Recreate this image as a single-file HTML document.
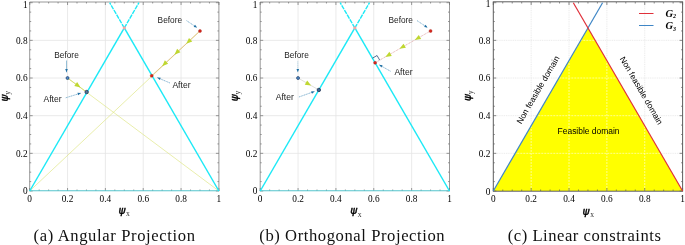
<!DOCTYPE html>
<html><head><meta charset="utf-8"><title>Projection figures</title>
<style>html,body{margin:0;padding:0;background:#fff}svg{display:block}</style></head>
<body>
<svg width="685" height="245" viewBox="0 0 685 245">
<rect width="685" height="245" fill="#fff"/>
<line x1="67.54" y1="191" x2="67.54" y2="2.7" stroke="#e4e4e4" stroke-width="0.8" />
<line x1="29.7" y1="153.34" x2="218.9" y2="153.34" stroke="#e4e4e4" stroke-width="0.8" />
<line x1="105.38" y1="191" x2="105.38" y2="2.7" stroke="#e4e4e4" stroke-width="0.8" />
<line x1="29.7" y1="115.68" x2="218.9" y2="115.68" stroke="#e4e4e4" stroke-width="0.8" />
<line x1="143.22" y1="191" x2="143.22" y2="2.7" stroke="#e4e4e4" stroke-width="0.8" />
<line x1="29.7" y1="78.02" x2="218.9" y2="78.02" stroke="#e4e4e4" stroke-width="0.8" />
<line x1="181.06" y1="191" x2="181.06" y2="2.7" stroke="#e4e4e4" stroke-width="0.8" />
<line x1="29.7" y1="40.36" x2="218.9" y2="40.36" stroke="#e4e4e4" stroke-width="0.8" />
<polyline points="29.7,191 29.7,2 218.9,2 218.9,191" fill="none" stroke="#8c8c8c" stroke-width="0.9"/>
<line x1="29.7" y1="191" x2="29.7" y2="188" stroke="#707070" stroke-width="0.7" />
<line x1="29.7" y1="2" x2="29.7" y2="5" stroke="#707070" stroke-width="0.7" />
<line x1="29.7" y1="191" x2="32.7" y2="191" stroke="#707070" stroke-width="0.7" />
<line x1="218.9" y1="191" x2="215.9" y2="191" stroke="#707070" stroke-width="0.7" />
<line x1="39.16" y1="191" x2="39.16" y2="189.5" stroke="#707070" stroke-width="0.7" />
<line x1="39.16" y1="2" x2="39.16" y2="3.5" stroke="#707070" stroke-width="0.7" />
<line x1="29.7" y1="181.59" x2="31.2" y2="181.59" stroke="#707070" stroke-width="0.7" />
<line x1="218.9" y1="181.59" x2="217.4" y2="181.59" stroke="#707070" stroke-width="0.7" />
<line x1="48.62" y1="191" x2="48.62" y2="189.5" stroke="#707070" stroke-width="0.7" />
<line x1="48.62" y1="2" x2="48.62" y2="3.5" stroke="#707070" stroke-width="0.7" />
<line x1="29.7" y1="172.17" x2="31.2" y2="172.17" stroke="#707070" stroke-width="0.7" />
<line x1="218.9" y1="172.17" x2="217.4" y2="172.17" stroke="#707070" stroke-width="0.7" />
<line x1="58.08" y1="191" x2="58.08" y2="189.5" stroke="#707070" stroke-width="0.7" />
<line x1="58.08" y1="2" x2="58.08" y2="3.5" stroke="#707070" stroke-width="0.7" />
<line x1="29.7" y1="162.75" x2="31.2" y2="162.75" stroke="#707070" stroke-width="0.7" />
<line x1="218.9" y1="162.75" x2="217.4" y2="162.75" stroke="#707070" stroke-width="0.7" />
<line x1="67.54" y1="191" x2="67.54" y2="188" stroke="#707070" stroke-width="0.7" />
<line x1="67.54" y1="2" x2="67.54" y2="5" stroke="#707070" stroke-width="0.7" />
<line x1="29.7" y1="153.34" x2="32.7" y2="153.34" stroke="#707070" stroke-width="0.7" />
<line x1="218.9" y1="153.34" x2="215.9" y2="153.34" stroke="#707070" stroke-width="0.7" />
<line x1="77" y1="191" x2="77" y2="189.5" stroke="#707070" stroke-width="0.7" />
<line x1="77" y1="2" x2="77" y2="3.5" stroke="#707070" stroke-width="0.7" />
<line x1="29.7" y1="143.93" x2="31.2" y2="143.93" stroke="#707070" stroke-width="0.7" />
<line x1="218.9" y1="143.93" x2="217.4" y2="143.93" stroke="#707070" stroke-width="0.7" />
<line x1="86.46" y1="191" x2="86.46" y2="189.5" stroke="#707070" stroke-width="0.7" />
<line x1="86.46" y1="2" x2="86.46" y2="3.5" stroke="#707070" stroke-width="0.7" />
<line x1="29.7" y1="134.51" x2="31.2" y2="134.51" stroke="#707070" stroke-width="0.7" />
<line x1="218.9" y1="134.51" x2="217.4" y2="134.51" stroke="#707070" stroke-width="0.7" />
<line x1="95.92" y1="191" x2="95.92" y2="189.5" stroke="#707070" stroke-width="0.7" />
<line x1="95.92" y1="2" x2="95.92" y2="3.5" stroke="#707070" stroke-width="0.7" />
<line x1="29.7" y1="125.09" x2="31.2" y2="125.09" stroke="#707070" stroke-width="0.7" />
<line x1="218.9" y1="125.09" x2="217.4" y2="125.09" stroke="#707070" stroke-width="0.7" />
<line x1="105.38" y1="191" x2="105.38" y2="188" stroke="#707070" stroke-width="0.7" />
<line x1="105.38" y1="2" x2="105.38" y2="5" stroke="#707070" stroke-width="0.7" />
<line x1="29.7" y1="115.68" x2="32.7" y2="115.68" stroke="#707070" stroke-width="0.7" />
<line x1="218.9" y1="115.68" x2="215.9" y2="115.68" stroke="#707070" stroke-width="0.7" />
<line x1="114.84" y1="191" x2="114.84" y2="189.5" stroke="#707070" stroke-width="0.7" />
<line x1="114.84" y1="2" x2="114.84" y2="3.5" stroke="#707070" stroke-width="0.7" />
<line x1="29.7" y1="106.26" x2="31.2" y2="106.26" stroke="#707070" stroke-width="0.7" />
<line x1="218.9" y1="106.26" x2="217.4" y2="106.26" stroke="#707070" stroke-width="0.7" />
<line x1="124.3" y1="191" x2="124.3" y2="189.5" stroke="#707070" stroke-width="0.7" />
<line x1="124.3" y1="2" x2="124.3" y2="3.5" stroke="#707070" stroke-width="0.7" />
<line x1="29.7" y1="96.85" x2="31.2" y2="96.85" stroke="#707070" stroke-width="0.7" />
<line x1="218.9" y1="96.85" x2="217.4" y2="96.85" stroke="#707070" stroke-width="0.7" />
<line x1="133.76" y1="191" x2="133.76" y2="189.5" stroke="#707070" stroke-width="0.7" />
<line x1="133.76" y1="2" x2="133.76" y2="3.5" stroke="#707070" stroke-width="0.7" />
<line x1="29.7" y1="87.43" x2="31.2" y2="87.43" stroke="#707070" stroke-width="0.7" />
<line x1="218.9" y1="87.43" x2="217.4" y2="87.43" stroke="#707070" stroke-width="0.7" />
<line x1="143.22" y1="191" x2="143.22" y2="188" stroke="#707070" stroke-width="0.7" />
<line x1="143.22" y1="2" x2="143.22" y2="5" stroke="#707070" stroke-width="0.7" />
<line x1="29.7" y1="78.02" x2="32.7" y2="78.02" stroke="#707070" stroke-width="0.7" />
<line x1="218.9" y1="78.02" x2="215.9" y2="78.02" stroke="#707070" stroke-width="0.7" />
<line x1="152.68" y1="191" x2="152.68" y2="189.5" stroke="#707070" stroke-width="0.7" />
<line x1="152.68" y1="2" x2="152.68" y2="3.5" stroke="#707070" stroke-width="0.7" />
<line x1="29.7" y1="68.6" x2="31.2" y2="68.6" stroke="#707070" stroke-width="0.7" />
<line x1="218.9" y1="68.6" x2="217.4" y2="68.6" stroke="#707070" stroke-width="0.7" />
<line x1="162.14" y1="191" x2="162.14" y2="189.5" stroke="#707070" stroke-width="0.7" />
<line x1="162.14" y1="2" x2="162.14" y2="3.5" stroke="#707070" stroke-width="0.7" />
<line x1="29.7" y1="59.19" x2="31.2" y2="59.19" stroke="#707070" stroke-width="0.7" />
<line x1="218.9" y1="59.19" x2="217.4" y2="59.19" stroke="#707070" stroke-width="0.7" />
<line x1="171.6" y1="191" x2="171.6" y2="189.5" stroke="#707070" stroke-width="0.7" />
<line x1="171.6" y1="2" x2="171.6" y2="3.5" stroke="#707070" stroke-width="0.7" />
<line x1="29.7" y1="49.77" x2="31.2" y2="49.77" stroke="#707070" stroke-width="0.7" />
<line x1="218.9" y1="49.77" x2="217.4" y2="49.77" stroke="#707070" stroke-width="0.7" />
<line x1="181.06" y1="191" x2="181.06" y2="188" stroke="#707070" stroke-width="0.7" />
<line x1="181.06" y1="2" x2="181.06" y2="5" stroke="#707070" stroke-width="0.7" />
<line x1="29.7" y1="40.36" x2="32.7" y2="40.36" stroke="#707070" stroke-width="0.7" />
<line x1="218.9" y1="40.36" x2="215.9" y2="40.36" stroke="#707070" stroke-width="0.7" />
<line x1="190.52" y1="191" x2="190.52" y2="189.5" stroke="#707070" stroke-width="0.7" />
<line x1="190.52" y1="2" x2="190.52" y2="3.5" stroke="#707070" stroke-width="0.7" />
<line x1="29.7" y1="30.94" x2="31.2" y2="30.94" stroke="#707070" stroke-width="0.7" />
<line x1="218.9" y1="30.94" x2="217.4" y2="30.94" stroke="#707070" stroke-width="0.7" />
<line x1="199.98" y1="191" x2="199.98" y2="189.5" stroke="#707070" stroke-width="0.7" />
<line x1="199.98" y1="2" x2="199.98" y2="3.5" stroke="#707070" stroke-width="0.7" />
<line x1="29.7" y1="21.53" x2="31.2" y2="21.53" stroke="#707070" stroke-width="0.7" />
<line x1="218.9" y1="21.53" x2="217.4" y2="21.53" stroke="#707070" stroke-width="0.7" />
<line x1="209.44" y1="191" x2="209.44" y2="189.5" stroke="#707070" stroke-width="0.7" />
<line x1="209.44" y1="2" x2="209.44" y2="3.5" stroke="#707070" stroke-width="0.7" />
<line x1="29.7" y1="12.11" x2="31.2" y2="12.11" stroke="#707070" stroke-width="0.7" />
<line x1="218.9" y1="12.11" x2="217.4" y2="12.11" stroke="#707070" stroke-width="0.7" />
<line x1="218.9" y1="191" x2="218.9" y2="188" stroke="#707070" stroke-width="0.7" />
<line x1="218.9" y1="2" x2="218.9" y2="5" stroke="#707070" stroke-width="0.7" />
<line x1="29.7" y1="2.7" x2="32.7" y2="2.7" stroke="#707070" stroke-width="0.7" />
<line x1="218.9" y1="2.7" x2="215.9" y2="2.7" stroke="#707070" stroke-width="0.7" />
<text x="29.7" y="201.8" font-family='"Liberation Serif", serif' font-size="9.3" text-anchor="middle" fill="#000">0</text>
<text x="27.6" y="194.2" font-family='"Liberation Serif", serif' font-size="9.3" text-anchor="end" fill="#000">0</text>
<text x="67.54" y="201.8" font-family='"Liberation Serif", serif' font-size="9.3" text-anchor="middle" fill="#000">0.2</text>
<text x="27.6" y="156.54" font-family='"Liberation Serif", serif' font-size="9.3" text-anchor="end" fill="#000">0.2</text>
<text x="105.38" y="201.8" font-family='"Liberation Serif", serif' font-size="9.3" text-anchor="middle" fill="#000">0.4</text>
<text x="27.6" y="118.88" font-family='"Liberation Serif", serif' font-size="9.3" text-anchor="end" fill="#000">0.4</text>
<text x="143.22" y="201.8" font-family='"Liberation Serif", serif' font-size="9.3" text-anchor="middle" fill="#000">0.6</text>
<text x="27.6" y="81.22" font-family='"Liberation Serif", serif' font-size="9.3" text-anchor="end" fill="#000">0.6</text>
<text x="181.06" y="201.8" font-family='"Liberation Serif", serif' font-size="9.3" text-anchor="middle" fill="#000">0.8</text>
<text x="27.6" y="43.56" font-family='"Liberation Serif", serif' font-size="9.3" text-anchor="end" fill="#000">0.8</text>
<text x="218.9" y="201.8" font-family='"Liberation Serif", serif' font-size="9.3" text-anchor="middle" fill="#000">1</text>
<text x="27.6" y="7.8" font-family='"Liberation Serif", serif' font-size="9.3" text-anchor="end" fill="#000">1</text>
<text x="118.4" y="213.7" font-family='"DejaVu Sans", "Liberation Sans", sans-serif' font-size="10.4" font-style="italic" fill="#000" stroke="#000" stroke-width="0.4">ψ</text><text x="126" y="216.1" font-family='"Liberation Serif", serif' font-size="7.6" fill="#333">x</text>
<g transform="translate(7.5,101.6) rotate(-90)"><text x="0" y="0" font-family='"DejaVu Sans", "Liberation Sans", sans-serif' font-size="10.4" font-style="italic" fill="#000" stroke="#000" stroke-width="0.4">ψ</text><text x="6.9" y="2.3" font-family='"Liberation Serif", serif' font-size="7.6" fill="#333">y</text></g>
<line x1="29.7" y1="191" x2="199.98" y2="30.94" stroke="#dde57e" stroke-width="0.65" />
<line x1="218.9" y1="191" x2="67.54" y2="78.02" stroke="#dde57e" stroke-width="0.65" />
<line x1="29.3" y1="190.7" x2="219.3" y2="190.7" stroke="#55c4cc" stroke-width="1.15" />
<line x1="29.7" y1="191" x2="124.3" y2="27.93" stroke="#1ce9f6" stroke-width="1.45" />
<line x1="218.9" y1="191" x2="124.3" y2="27.93" stroke="#1ce9f6" stroke-width="1.45" />
<line x1="124.3" y1="27.93" x2="138.93" y2="2.7" stroke="#1ce9f6" stroke-width="1.4" stroke-dasharray="4.5 0.9"/>
<line x1="124.3" y1="27.93" x2="109.67" y2="2.7" stroke="#1ce9f6" stroke-width="1.4" stroke-dasharray="4.5 0.9"/>
<circle cx="124.3" cy="27.93" r="1.6" fill="#f4a6a6"/>
<line x1="67.54" y1="78.02" x2="86.65" y2="92.05" stroke="#ced85a" stroke-width="0.75" />
<polygon points="80.53,87.56 74.28,85.94 77.12,82.07" fill="#bfd730"/>
<line x1="199.98" y1="30.94" x2="151.73" y2="75.76" stroke="#e0bc84" stroke-width="0.9" />
<polygon points="186.23,43.72 188.99,37.88 192.26,41.39" fill="#bfd730"/>
<polygon points="174.41,54.7 177.17,48.86 180.44,52.37" fill="#bfd730"/>
<polygon points="162.11,66.13 164.87,60.28 168.14,63.8" fill="#bfd730"/>
<circle cx="67.54" cy="78.02" r="1.5" fill="#4a86c0" stroke="#23406e" stroke-width="0.7"/>
<circle cx="86.65" cy="92.05" r="1.7" fill="#5a7898" stroke="#1c3050" stroke-width="0.8"/>
<circle cx="199.98" cy="30.94" r="1.5" fill="#d8261c" stroke="#a01810" stroke-width="0.4"/>
<circle cx="151.73" cy="75.76" r="1.5" fill="#d8261c" stroke="#a01810" stroke-width="0.4"/>
<text x="54.3" y="57.5" font-family='"Liberation Sans", sans-serif' font-size="8.3" text-anchor="start" fill="#222">Before</text>
<line x1="66.5" y1="60.5" x2="66.5" y2="72.3" stroke="#3f8ab4" stroke-width="0.55" />
<polygon points="66.5,72.3 65.2,69.1 67.8,69.1" fill="#1f6fa3"/>
<text x="43.5" y="101.6" font-family='"Liberation Sans", sans-serif' font-size="8.6" text-anchor="start" fill="#222">After</text>
<line x1="65.7" y1="97.8" x2="80.9" y2="93.1" stroke="#2d7fb0" stroke-width="0.55" stroke-dasharray="1.3 0.5"/>
<polygon points="80.9,93.1 78.23,95.29 77.46,92.8" fill="#1f6fa3"/>
<text x="157.6" y="23.2" font-family='"Liberation Sans", sans-serif' font-size="8.3" text-anchor="start" fill="#222">Before</text>
<line x1="186.5" y1="20.6" x2="197" y2="27.6" stroke="#2d7fb0" stroke-width="0.55" stroke-dasharray="1.3 0.5"/>
<polygon points="197,27.6 193.62,26.91 195.06,24.74" fill="#1f6fa3"/>
<text x="172.4" y="88" font-family='"Liberation Sans", sans-serif' font-size="8.6" text-anchor="start" fill="#222">After</text>
<line x1="170" y1="83" x2="157.3" y2="77.6" stroke="#2d7fb0" stroke-width="0.55" stroke-dasharray="1.3 0.5"/>
<polygon points="157.3,77.6 160.75,77.66 159.74,80.05" fill="#1f6fa3"/>
<line x1="298.06" y1="191" x2="298.06" y2="2.7" stroke="#e4e4e4" stroke-width="0.8" />
<line x1="260.2" y1="153.34" x2="449.5" y2="153.34" stroke="#e4e4e4" stroke-width="0.8" />
<line x1="335.92" y1="191" x2="335.92" y2="2.7" stroke="#e4e4e4" stroke-width="0.8" />
<line x1="260.2" y1="115.68" x2="449.5" y2="115.68" stroke="#e4e4e4" stroke-width="0.8" />
<line x1="373.78" y1="191" x2="373.78" y2="2.7" stroke="#e4e4e4" stroke-width="0.8" />
<line x1="260.2" y1="78.02" x2="449.5" y2="78.02" stroke="#e4e4e4" stroke-width="0.8" />
<line x1="411.64" y1="191" x2="411.64" y2="2.7" stroke="#e4e4e4" stroke-width="0.8" />
<line x1="260.2" y1="40.36" x2="449.5" y2="40.36" stroke="#e4e4e4" stroke-width="0.8" />
<polyline points="260.2,191 260.2,2 449.5,2 449.5,191" fill="none" stroke="#8c8c8c" stroke-width="0.9"/>
<line x1="260.2" y1="191" x2="260.2" y2="188" stroke="#707070" stroke-width="0.7" />
<line x1="260.2" y1="2" x2="260.2" y2="5" stroke="#707070" stroke-width="0.7" />
<line x1="260.2" y1="191" x2="263.2" y2="191" stroke="#707070" stroke-width="0.7" />
<line x1="449.5" y1="191" x2="446.5" y2="191" stroke="#707070" stroke-width="0.7" />
<line x1="269.66" y1="191" x2="269.66" y2="189.5" stroke="#707070" stroke-width="0.7" />
<line x1="269.66" y1="2" x2="269.66" y2="3.5" stroke="#707070" stroke-width="0.7" />
<line x1="260.2" y1="181.59" x2="261.7" y2="181.59" stroke="#707070" stroke-width="0.7" />
<line x1="449.5" y1="181.59" x2="448" y2="181.59" stroke="#707070" stroke-width="0.7" />
<line x1="279.13" y1="191" x2="279.13" y2="189.5" stroke="#707070" stroke-width="0.7" />
<line x1="279.13" y1="2" x2="279.13" y2="3.5" stroke="#707070" stroke-width="0.7" />
<line x1="260.2" y1="172.17" x2="261.7" y2="172.17" stroke="#707070" stroke-width="0.7" />
<line x1="449.5" y1="172.17" x2="448" y2="172.17" stroke="#707070" stroke-width="0.7" />
<line x1="288.59" y1="191" x2="288.59" y2="189.5" stroke="#707070" stroke-width="0.7" />
<line x1="288.59" y1="2" x2="288.59" y2="3.5" stroke="#707070" stroke-width="0.7" />
<line x1="260.2" y1="162.75" x2="261.7" y2="162.75" stroke="#707070" stroke-width="0.7" />
<line x1="449.5" y1="162.75" x2="448" y2="162.75" stroke="#707070" stroke-width="0.7" />
<line x1="298.06" y1="191" x2="298.06" y2="188" stroke="#707070" stroke-width="0.7" />
<line x1="298.06" y1="2" x2="298.06" y2="5" stroke="#707070" stroke-width="0.7" />
<line x1="260.2" y1="153.34" x2="263.2" y2="153.34" stroke="#707070" stroke-width="0.7" />
<line x1="449.5" y1="153.34" x2="446.5" y2="153.34" stroke="#707070" stroke-width="0.7" />
<line x1="307.52" y1="191" x2="307.52" y2="189.5" stroke="#707070" stroke-width="0.7" />
<line x1="307.52" y1="2" x2="307.52" y2="3.5" stroke="#707070" stroke-width="0.7" />
<line x1="260.2" y1="143.93" x2="261.7" y2="143.93" stroke="#707070" stroke-width="0.7" />
<line x1="449.5" y1="143.93" x2="448" y2="143.93" stroke="#707070" stroke-width="0.7" />
<line x1="316.99" y1="191" x2="316.99" y2="189.5" stroke="#707070" stroke-width="0.7" />
<line x1="316.99" y1="2" x2="316.99" y2="3.5" stroke="#707070" stroke-width="0.7" />
<line x1="260.2" y1="134.51" x2="261.7" y2="134.51" stroke="#707070" stroke-width="0.7" />
<line x1="449.5" y1="134.51" x2="448" y2="134.51" stroke="#707070" stroke-width="0.7" />
<line x1="326.45" y1="191" x2="326.45" y2="189.5" stroke="#707070" stroke-width="0.7" />
<line x1="326.45" y1="2" x2="326.45" y2="3.5" stroke="#707070" stroke-width="0.7" />
<line x1="260.2" y1="125.09" x2="261.7" y2="125.09" stroke="#707070" stroke-width="0.7" />
<line x1="449.5" y1="125.09" x2="448" y2="125.09" stroke="#707070" stroke-width="0.7" />
<line x1="335.92" y1="191" x2="335.92" y2="188" stroke="#707070" stroke-width="0.7" />
<line x1="335.92" y1="2" x2="335.92" y2="5" stroke="#707070" stroke-width="0.7" />
<line x1="260.2" y1="115.68" x2="263.2" y2="115.68" stroke="#707070" stroke-width="0.7" />
<line x1="449.5" y1="115.68" x2="446.5" y2="115.68" stroke="#707070" stroke-width="0.7" />
<line x1="345.38" y1="191" x2="345.38" y2="189.5" stroke="#707070" stroke-width="0.7" />
<line x1="345.38" y1="2" x2="345.38" y2="3.5" stroke="#707070" stroke-width="0.7" />
<line x1="260.2" y1="106.26" x2="261.7" y2="106.26" stroke="#707070" stroke-width="0.7" />
<line x1="449.5" y1="106.26" x2="448" y2="106.26" stroke="#707070" stroke-width="0.7" />
<line x1="354.85" y1="191" x2="354.85" y2="189.5" stroke="#707070" stroke-width="0.7" />
<line x1="354.85" y1="2" x2="354.85" y2="3.5" stroke="#707070" stroke-width="0.7" />
<line x1="260.2" y1="96.85" x2="261.7" y2="96.85" stroke="#707070" stroke-width="0.7" />
<line x1="449.5" y1="96.85" x2="448" y2="96.85" stroke="#707070" stroke-width="0.7" />
<line x1="364.31" y1="191" x2="364.31" y2="189.5" stroke="#707070" stroke-width="0.7" />
<line x1="364.31" y1="2" x2="364.31" y2="3.5" stroke="#707070" stroke-width="0.7" />
<line x1="260.2" y1="87.43" x2="261.7" y2="87.43" stroke="#707070" stroke-width="0.7" />
<line x1="449.5" y1="87.43" x2="448" y2="87.43" stroke="#707070" stroke-width="0.7" />
<line x1="373.78" y1="191" x2="373.78" y2="188" stroke="#707070" stroke-width="0.7" />
<line x1="373.78" y1="2" x2="373.78" y2="5" stroke="#707070" stroke-width="0.7" />
<line x1="260.2" y1="78.02" x2="263.2" y2="78.02" stroke="#707070" stroke-width="0.7" />
<line x1="449.5" y1="78.02" x2="446.5" y2="78.02" stroke="#707070" stroke-width="0.7" />
<line x1="383.25" y1="191" x2="383.25" y2="189.5" stroke="#707070" stroke-width="0.7" />
<line x1="383.25" y1="2" x2="383.25" y2="3.5" stroke="#707070" stroke-width="0.7" />
<line x1="260.2" y1="68.6" x2="261.7" y2="68.6" stroke="#707070" stroke-width="0.7" />
<line x1="449.5" y1="68.6" x2="448" y2="68.6" stroke="#707070" stroke-width="0.7" />
<line x1="392.71" y1="191" x2="392.71" y2="189.5" stroke="#707070" stroke-width="0.7" />
<line x1="392.71" y1="2" x2="392.71" y2="3.5" stroke="#707070" stroke-width="0.7" />
<line x1="260.2" y1="59.19" x2="261.7" y2="59.19" stroke="#707070" stroke-width="0.7" />
<line x1="449.5" y1="59.19" x2="448" y2="59.19" stroke="#707070" stroke-width="0.7" />
<line x1="402.18" y1="191" x2="402.18" y2="189.5" stroke="#707070" stroke-width="0.7" />
<line x1="402.18" y1="2" x2="402.18" y2="3.5" stroke="#707070" stroke-width="0.7" />
<line x1="260.2" y1="49.77" x2="261.7" y2="49.77" stroke="#707070" stroke-width="0.7" />
<line x1="449.5" y1="49.77" x2="448" y2="49.77" stroke="#707070" stroke-width="0.7" />
<line x1="411.64" y1="191" x2="411.64" y2="188" stroke="#707070" stroke-width="0.7" />
<line x1="411.64" y1="2" x2="411.64" y2="5" stroke="#707070" stroke-width="0.7" />
<line x1="260.2" y1="40.36" x2="263.2" y2="40.36" stroke="#707070" stroke-width="0.7" />
<line x1="449.5" y1="40.36" x2="446.5" y2="40.36" stroke="#707070" stroke-width="0.7" />
<line x1="421.11" y1="191" x2="421.11" y2="189.5" stroke="#707070" stroke-width="0.7" />
<line x1="421.11" y1="2" x2="421.11" y2="3.5" stroke="#707070" stroke-width="0.7" />
<line x1="260.2" y1="30.94" x2="261.7" y2="30.94" stroke="#707070" stroke-width="0.7" />
<line x1="449.5" y1="30.94" x2="448" y2="30.94" stroke="#707070" stroke-width="0.7" />
<line x1="430.57" y1="191" x2="430.57" y2="189.5" stroke="#707070" stroke-width="0.7" />
<line x1="430.57" y1="2" x2="430.57" y2="3.5" stroke="#707070" stroke-width="0.7" />
<line x1="260.2" y1="21.53" x2="261.7" y2="21.53" stroke="#707070" stroke-width="0.7" />
<line x1="449.5" y1="21.53" x2="448" y2="21.53" stroke="#707070" stroke-width="0.7" />
<line x1="440.04" y1="191" x2="440.04" y2="189.5" stroke="#707070" stroke-width="0.7" />
<line x1="440.04" y1="2" x2="440.04" y2="3.5" stroke="#707070" stroke-width="0.7" />
<line x1="260.2" y1="12.11" x2="261.7" y2="12.11" stroke="#707070" stroke-width="0.7" />
<line x1="449.5" y1="12.11" x2="448" y2="12.11" stroke="#707070" stroke-width="0.7" />
<line x1="449.5" y1="191" x2="449.5" y2="188" stroke="#707070" stroke-width="0.7" />
<line x1="449.5" y1="2" x2="449.5" y2="5" stroke="#707070" stroke-width="0.7" />
<line x1="260.2" y1="2.7" x2="263.2" y2="2.7" stroke="#707070" stroke-width="0.7" />
<line x1="449.5" y1="2.7" x2="446.5" y2="2.7" stroke="#707070" stroke-width="0.7" />
<text x="260.2" y="201.8" font-family='"Liberation Serif", serif' font-size="9.3" text-anchor="middle" fill="#000">0</text>
<text x="257.3" y="194.2" font-family='"Liberation Serif", serif' font-size="9.3" text-anchor="end" fill="#000">0</text>
<text x="298.06" y="201.8" font-family='"Liberation Serif", serif' font-size="9.3" text-anchor="middle" fill="#000">0.2</text>
<text x="257.3" y="156.54" font-family='"Liberation Serif", serif' font-size="9.3" text-anchor="end" fill="#000">0.2</text>
<text x="335.92" y="201.8" font-family='"Liberation Serif", serif' font-size="9.3" text-anchor="middle" fill="#000">0.4</text>
<text x="257.3" y="118.88" font-family='"Liberation Serif", serif' font-size="9.3" text-anchor="end" fill="#000">0.4</text>
<text x="373.78" y="201.8" font-family='"Liberation Serif", serif' font-size="9.3" text-anchor="middle" fill="#000">0.6</text>
<text x="257.3" y="81.22" font-family='"Liberation Serif", serif' font-size="9.3" text-anchor="end" fill="#000">0.6</text>
<text x="411.64" y="201.8" font-family='"Liberation Serif", serif' font-size="9.3" text-anchor="middle" fill="#000">0.8</text>
<text x="257.3" y="43.56" font-family='"Liberation Serif", serif' font-size="9.3" text-anchor="end" fill="#000">0.8</text>
<text x="449.5" y="201.8" font-family='"Liberation Serif", serif' font-size="9.3" text-anchor="middle" fill="#000">1</text>
<text x="257.3" y="7.8" font-family='"Liberation Serif", serif' font-size="9.3" text-anchor="end" fill="#000">1</text>
<text x="350.25" y="214.3" font-family='"DejaVu Sans", "Liberation Sans", sans-serif' font-size="10.4" font-style="italic" fill="#000" stroke="#000" stroke-width="0.4">ψ</text><text x="357.85" y="216.7" font-family='"Liberation Serif", serif' font-size="7.6" fill="#333">x</text>
<g transform="translate(238,101.3) rotate(-90)"><text x="0" y="0" font-family='"DejaVu Sans", "Liberation Sans", sans-serif' font-size="10.4" font-style="italic" fill="#000" stroke="#000" stroke-width="0.4">ψ</text><text x="6.9" y="2.3" font-family='"Liberation Serif", serif' font-size="7.6" fill="#333">y</text></g>
<line x1="259.8" y1="190.7" x2="449.9" y2="190.7" stroke="#55c4cc" stroke-width="1.15" />
<line x1="260.2" y1="191" x2="354.85" y2="27.93" stroke="#1ce9f6" stroke-width="1.45" />
<line x1="449.5" y1="191" x2="354.85" y2="27.93" stroke="#1ce9f6" stroke-width="1.45" />
<line x1="354.85" y1="27.93" x2="369.49" y2="2.7" stroke="#1ce9f6" stroke-width="1.4" stroke-dasharray="4.5 0.9"/>
<line x1="354.85" y1="27.93" x2="340.21" y2="2.7" stroke="#1ce9f6" stroke-width="1.4" stroke-dasharray="4.5 0.9"/>
<circle cx="354.85" cy="27.93" r="1.6" fill="#f4a6a6"/>
<line x1="298.06" y1="78.02" x2="318.85" y2="89.96" stroke="#d8d8d0" stroke-width="0.8" />
<polygon points="311.15,85.54 304.76,84.63 307.15,80.47" fill="#bfd730"/>
<line x1="430.57" y1="30.94" x2="375.11" y2="62.77" stroke="#d89090" stroke-width="0.7" stroke-dasharray="1 0.7"/>
<polygon points="414.76,40.01 418.77,34.95 421.16,39.11" fill="#bfd730"/>
<polygon points="399.51,48.77 403.52,43.7 405.91,47.86" fill="#bfd730"/>
<polygon points="385.37,56.88 389.38,51.81 391.76,55.98" fill="#bfd730"/>
<polyline points="372.47,58.17 377.06,55.53 379.7,60.13" fill="none" stroke="#1c4070" stroke-width="0.75"/>
<circle cx="298.06" cy="78.02" r="1.5" fill="#4a86c0" stroke="#23406e" stroke-width="0.7"/>
<circle cx="318.85" cy="89.96" r="1.7" fill="#3a6898" stroke="#1c3050" stroke-width="0.8"/>
<circle cx="430.57" cy="30.94" r="1.5" fill="#d8261c" stroke="#a01810" stroke-width="0.4"/>
<circle cx="375.11" cy="62.77" r="1.5" fill="#d8261c" stroke="#a01810" stroke-width="0.4"/>
<text x="284.3" y="57.5" font-family='"Liberation Sans", sans-serif' font-size="8.3" text-anchor="start" fill="#222">Before</text>
<line x1="297.8" y1="61.3" x2="297.8" y2="72.2" stroke="#8fc0d8" stroke-width="0.55" stroke-dasharray="1.3 0.5"/>
<polygon points="297.8,72.2 296.5,69 299.1,69" fill="#1f6fa3"/>
<text x="275.7" y="99.6" font-family='"Liberation Sans", sans-serif' font-size="8.6" text-anchor="start" fill="#222">After</text>
<line x1="298.9" y1="97" x2="314.6" y2="91.4" stroke="#2d7fb0" stroke-width="0.55" stroke-dasharray="1.3 0.5"/>
<polygon points="314.6,91.4 312.02,93.7 311.15,91.25" fill="#1f6fa3"/>
<text x="388.5" y="23.3" font-family='"Liberation Sans", sans-serif' font-size="8.3" text-anchor="start" fill="#222">Before</text>
<line x1="417" y1="20.6" x2="427.5" y2="27.6" stroke="#2d7fb0" stroke-width="0.55" stroke-dasharray="1.3 0.5"/>
<polygon points="427.5,27.6 424.12,26.91 425.56,24.74" fill="#1f6fa3"/>
<text x="394.4" y="75" font-family='"Liberation Sans", sans-serif' font-size="8.6" text-anchor="start" fill="#222">After</text>
<line x1="390.6" y1="71.3" x2="379.2" y2="64.8" stroke="#2d7fb0" stroke-width="0.55" stroke-dasharray="1.3 0.5"/>
<polygon points="379.2,64.8 382.62,65.26 381.34,67.51" fill="#1f6fa3"/>
<line x1="531.16" y1="191" x2="531.16" y2="2.7" stroke="#e4e4e4" stroke-width="0.8" stroke-dasharray="1 0.8"/>
<line x1="493.3" y1="153.34" x2="682.6" y2="153.34" stroke="#e4e4e4" stroke-width="0.8" stroke-dasharray="1 0.8"/>
<line x1="569.02" y1="191" x2="569.02" y2="2.7" stroke="#e4e4e4" stroke-width="0.8" stroke-dasharray="1 0.8"/>
<line x1="493.3" y1="115.68" x2="682.6" y2="115.68" stroke="#e4e4e4" stroke-width="0.8" stroke-dasharray="1 0.8"/>
<line x1="606.88" y1="191" x2="606.88" y2="2.7" stroke="#e4e4e4" stroke-width="0.8" stroke-dasharray="1 0.8"/>
<line x1="493.3" y1="78.02" x2="682.6" y2="78.02" stroke="#e4e4e4" stroke-width="0.8" stroke-dasharray="1 0.8"/>
<line x1="644.74" y1="191" x2="644.74" y2="2.7" stroke="#e4e4e4" stroke-width="0.8" stroke-dasharray="1 0.8"/>
<line x1="493.3" y1="40.36" x2="682.6" y2="40.36" stroke="#e4e4e4" stroke-width="0.8" stroke-dasharray="1 0.8"/>
<clipPath id="tri"><polygon points="493.3,191 587.95,27.93 682.6,191"/></clipPath>
<polygon points="493.3,191 587.95,27.93 682.6,191" fill="#ffff00"/>
<g clip-path="url(#tri)">
<line x1="531.16" y1="191" x2="531.16" y2="2.7" stroke="#ffffc4" stroke-width="0.7" stroke-dasharray="2 1"/>
<line x1="493.3" y1="153.34" x2="682.6" y2="153.34" stroke="#ffffc4" stroke-width="0.7" stroke-dasharray="2 1"/>
<line x1="569.02" y1="191" x2="569.02" y2="2.7" stroke="#ffffc4" stroke-width="0.7" stroke-dasharray="2 1"/>
<line x1="493.3" y1="115.68" x2="682.6" y2="115.68" stroke="#ffffc4" stroke-width="0.7" stroke-dasharray="2 1"/>
<line x1="606.88" y1="191" x2="606.88" y2="2.7" stroke="#ffffc4" stroke-width="0.7" stroke-dasharray="2 1"/>
<line x1="493.3" y1="78.02" x2="682.6" y2="78.02" stroke="#ffffc4" stroke-width="0.7" stroke-dasharray="2 1"/>
<line x1="644.74" y1="191" x2="644.74" y2="2.7" stroke="#ffffc4" stroke-width="0.7" stroke-dasharray="2 1"/>
<line x1="493.3" y1="40.36" x2="682.6" y2="40.36" stroke="#ffffc4" stroke-width="0.7" stroke-dasharray="2 1"/>
</g>
<rect x="493.3" y="1.8" width="189.3" height="189.4" fill="none" stroke="#5c5c5c" stroke-width="1"/>
<line x1="493.3" y1="191" x2="493.3" y2="188" stroke="#5c5c5c" stroke-width="0.7" />
<line x1="493.3" y1="2" x2="493.3" y2="5" stroke="#5c5c5c" stroke-width="0.7" />
<line x1="493.3" y1="191" x2="496.3" y2="191" stroke="#5c5c5c" stroke-width="0.7" />
<line x1="682.6" y1="191" x2="679.6" y2="191" stroke="#5c5c5c" stroke-width="0.7" />
<line x1="502.76" y1="191" x2="502.76" y2="189.5" stroke="#5c5c5c" stroke-width="0.7" />
<line x1="502.76" y1="2" x2="502.76" y2="3.5" stroke="#5c5c5c" stroke-width="0.7" />
<line x1="493.3" y1="181.59" x2="494.8" y2="181.59" stroke="#5c5c5c" stroke-width="0.7" />
<line x1="682.6" y1="181.59" x2="681.1" y2="181.59" stroke="#5c5c5c" stroke-width="0.7" />
<line x1="512.23" y1="191" x2="512.23" y2="189.5" stroke="#5c5c5c" stroke-width="0.7" />
<line x1="512.23" y1="2" x2="512.23" y2="3.5" stroke="#5c5c5c" stroke-width="0.7" />
<line x1="493.3" y1="172.17" x2="494.8" y2="172.17" stroke="#5c5c5c" stroke-width="0.7" />
<line x1="682.6" y1="172.17" x2="681.1" y2="172.17" stroke="#5c5c5c" stroke-width="0.7" />
<line x1="521.7" y1="191" x2="521.7" y2="189.5" stroke="#5c5c5c" stroke-width="0.7" />
<line x1="521.7" y1="2" x2="521.7" y2="3.5" stroke="#5c5c5c" stroke-width="0.7" />
<line x1="493.3" y1="162.75" x2="494.8" y2="162.75" stroke="#5c5c5c" stroke-width="0.7" />
<line x1="682.6" y1="162.75" x2="681.1" y2="162.75" stroke="#5c5c5c" stroke-width="0.7" />
<line x1="531.16" y1="191" x2="531.16" y2="188" stroke="#5c5c5c" stroke-width="0.7" />
<line x1="531.16" y1="2" x2="531.16" y2="5" stroke="#5c5c5c" stroke-width="0.7" />
<line x1="493.3" y1="153.34" x2="496.3" y2="153.34" stroke="#5c5c5c" stroke-width="0.7" />
<line x1="682.6" y1="153.34" x2="679.6" y2="153.34" stroke="#5c5c5c" stroke-width="0.7" />
<line x1="540.62" y1="191" x2="540.62" y2="189.5" stroke="#5c5c5c" stroke-width="0.7" />
<line x1="540.62" y1="2" x2="540.62" y2="3.5" stroke="#5c5c5c" stroke-width="0.7" />
<line x1="493.3" y1="143.93" x2="494.8" y2="143.93" stroke="#5c5c5c" stroke-width="0.7" />
<line x1="682.6" y1="143.93" x2="681.1" y2="143.93" stroke="#5c5c5c" stroke-width="0.7" />
<line x1="550.09" y1="191" x2="550.09" y2="189.5" stroke="#5c5c5c" stroke-width="0.7" />
<line x1="550.09" y1="2" x2="550.09" y2="3.5" stroke="#5c5c5c" stroke-width="0.7" />
<line x1="493.3" y1="134.51" x2="494.8" y2="134.51" stroke="#5c5c5c" stroke-width="0.7" />
<line x1="682.6" y1="134.51" x2="681.1" y2="134.51" stroke="#5c5c5c" stroke-width="0.7" />
<line x1="559.56" y1="191" x2="559.56" y2="189.5" stroke="#5c5c5c" stroke-width="0.7" />
<line x1="559.56" y1="2" x2="559.56" y2="3.5" stroke="#5c5c5c" stroke-width="0.7" />
<line x1="493.3" y1="125.09" x2="494.8" y2="125.09" stroke="#5c5c5c" stroke-width="0.7" />
<line x1="682.6" y1="125.09" x2="681.1" y2="125.09" stroke="#5c5c5c" stroke-width="0.7" />
<line x1="569.02" y1="191" x2="569.02" y2="188" stroke="#5c5c5c" stroke-width="0.7" />
<line x1="569.02" y1="2" x2="569.02" y2="5" stroke="#5c5c5c" stroke-width="0.7" />
<line x1="493.3" y1="115.68" x2="496.3" y2="115.68" stroke="#5c5c5c" stroke-width="0.7" />
<line x1="682.6" y1="115.68" x2="679.6" y2="115.68" stroke="#5c5c5c" stroke-width="0.7" />
<line x1="578.49" y1="191" x2="578.49" y2="189.5" stroke="#5c5c5c" stroke-width="0.7" />
<line x1="578.49" y1="2" x2="578.49" y2="3.5" stroke="#5c5c5c" stroke-width="0.7" />
<line x1="493.3" y1="106.26" x2="494.8" y2="106.26" stroke="#5c5c5c" stroke-width="0.7" />
<line x1="682.6" y1="106.26" x2="681.1" y2="106.26" stroke="#5c5c5c" stroke-width="0.7" />
<line x1="587.95" y1="191" x2="587.95" y2="189.5" stroke="#5c5c5c" stroke-width="0.7" />
<line x1="587.95" y1="2" x2="587.95" y2="3.5" stroke="#5c5c5c" stroke-width="0.7" />
<line x1="493.3" y1="96.85" x2="494.8" y2="96.85" stroke="#5c5c5c" stroke-width="0.7" />
<line x1="682.6" y1="96.85" x2="681.1" y2="96.85" stroke="#5c5c5c" stroke-width="0.7" />
<line x1="597.41" y1="191" x2="597.41" y2="189.5" stroke="#5c5c5c" stroke-width="0.7" />
<line x1="597.41" y1="2" x2="597.41" y2="3.5" stroke="#5c5c5c" stroke-width="0.7" />
<line x1="493.3" y1="87.43" x2="494.8" y2="87.43" stroke="#5c5c5c" stroke-width="0.7" />
<line x1="682.6" y1="87.43" x2="681.1" y2="87.43" stroke="#5c5c5c" stroke-width="0.7" />
<line x1="606.88" y1="191" x2="606.88" y2="188" stroke="#5c5c5c" stroke-width="0.7" />
<line x1="606.88" y1="2" x2="606.88" y2="5" stroke="#5c5c5c" stroke-width="0.7" />
<line x1="493.3" y1="78.02" x2="496.3" y2="78.02" stroke="#5c5c5c" stroke-width="0.7" />
<line x1="682.6" y1="78.02" x2="679.6" y2="78.02" stroke="#5c5c5c" stroke-width="0.7" />
<line x1="616.35" y1="191" x2="616.35" y2="189.5" stroke="#5c5c5c" stroke-width="0.7" />
<line x1="616.35" y1="2" x2="616.35" y2="3.5" stroke="#5c5c5c" stroke-width="0.7" />
<line x1="493.3" y1="68.6" x2="494.8" y2="68.6" stroke="#5c5c5c" stroke-width="0.7" />
<line x1="682.6" y1="68.6" x2="681.1" y2="68.6" stroke="#5c5c5c" stroke-width="0.7" />
<line x1="625.81" y1="191" x2="625.81" y2="189.5" stroke="#5c5c5c" stroke-width="0.7" />
<line x1="625.81" y1="2" x2="625.81" y2="3.5" stroke="#5c5c5c" stroke-width="0.7" />
<line x1="493.3" y1="59.19" x2="494.8" y2="59.19" stroke="#5c5c5c" stroke-width="0.7" />
<line x1="682.6" y1="59.19" x2="681.1" y2="59.19" stroke="#5c5c5c" stroke-width="0.7" />
<line x1="635.28" y1="191" x2="635.28" y2="189.5" stroke="#5c5c5c" stroke-width="0.7" />
<line x1="635.28" y1="2" x2="635.28" y2="3.5" stroke="#5c5c5c" stroke-width="0.7" />
<line x1="493.3" y1="49.77" x2="494.8" y2="49.77" stroke="#5c5c5c" stroke-width="0.7" />
<line x1="682.6" y1="49.77" x2="681.1" y2="49.77" stroke="#5c5c5c" stroke-width="0.7" />
<line x1="644.74" y1="191" x2="644.74" y2="188" stroke="#5c5c5c" stroke-width="0.7" />
<line x1="644.74" y1="2" x2="644.74" y2="5" stroke="#5c5c5c" stroke-width="0.7" />
<line x1="493.3" y1="40.36" x2="496.3" y2="40.36" stroke="#5c5c5c" stroke-width="0.7" />
<line x1="682.6" y1="40.36" x2="679.6" y2="40.36" stroke="#5c5c5c" stroke-width="0.7" />
<line x1="654.21" y1="191" x2="654.21" y2="189.5" stroke="#5c5c5c" stroke-width="0.7" />
<line x1="654.21" y1="2" x2="654.21" y2="3.5" stroke="#5c5c5c" stroke-width="0.7" />
<line x1="493.3" y1="30.94" x2="494.8" y2="30.94" stroke="#5c5c5c" stroke-width="0.7" />
<line x1="682.6" y1="30.94" x2="681.1" y2="30.94" stroke="#5c5c5c" stroke-width="0.7" />
<line x1="663.67" y1="191" x2="663.67" y2="189.5" stroke="#5c5c5c" stroke-width="0.7" />
<line x1="663.67" y1="2" x2="663.67" y2="3.5" stroke="#5c5c5c" stroke-width="0.7" />
<line x1="493.3" y1="21.53" x2="494.8" y2="21.53" stroke="#5c5c5c" stroke-width="0.7" />
<line x1="682.6" y1="21.53" x2="681.1" y2="21.53" stroke="#5c5c5c" stroke-width="0.7" />
<line x1="673.13" y1="191" x2="673.13" y2="189.5" stroke="#5c5c5c" stroke-width="0.7" />
<line x1="673.13" y1="2" x2="673.13" y2="3.5" stroke="#5c5c5c" stroke-width="0.7" />
<line x1="493.3" y1="12.11" x2="494.8" y2="12.11" stroke="#5c5c5c" stroke-width="0.7" />
<line x1="682.6" y1="12.11" x2="681.1" y2="12.11" stroke="#5c5c5c" stroke-width="0.7" />
<line x1="682.6" y1="191" x2="682.6" y2="188" stroke="#5c5c5c" stroke-width="0.7" />
<line x1="682.6" y1="2" x2="682.6" y2="5" stroke="#5c5c5c" stroke-width="0.7" />
<line x1="493.3" y1="2.7" x2="496.3" y2="2.7" stroke="#5c5c5c" stroke-width="0.7" />
<line x1="682.6" y1="2.7" x2="679.6" y2="2.7" stroke="#5c5c5c" stroke-width="0.7" />
<text x="493.3" y="202.2" font-family='"Liberation Serif", serif' font-size="9.3" text-anchor="middle" fill="#000">0</text>
<text x="490.3" y="195" font-family='"Liberation Serif", serif' font-size="9.3" text-anchor="end" fill="#000">0</text>
<text x="531.16" y="202.2" font-family='"Liberation Serif", serif' font-size="9.3" text-anchor="middle" fill="#000">0.2</text>
<text x="490.3" y="156.54" font-family='"Liberation Serif", serif' font-size="9.3" text-anchor="end" fill="#000">0.2</text>
<text x="569.02" y="202.2" font-family='"Liberation Serif", serif' font-size="9.3" text-anchor="middle" fill="#000">0.4</text>
<text x="490.3" y="118.88" font-family='"Liberation Serif", serif' font-size="9.3" text-anchor="end" fill="#000">0.4</text>
<text x="606.88" y="202.2" font-family='"Liberation Serif", serif' font-size="9.3" text-anchor="middle" fill="#000">0.6</text>
<text x="490.3" y="81.22" font-family='"Liberation Serif", serif' font-size="9.3" text-anchor="end" fill="#000">0.6</text>
<text x="644.74" y="202.2" font-family='"Liberation Serif", serif' font-size="9.3" text-anchor="middle" fill="#000">0.8</text>
<text x="490.3" y="43.56" font-family='"Liberation Serif", serif' font-size="9.3" text-anchor="end" fill="#000">0.8</text>
<text x="682.6" y="202.2" font-family='"Liberation Serif", serif' font-size="9.3" text-anchor="middle" fill="#000">1</text>
<text x="490.3" y="6.9" font-family='"Liberation Serif", serif' font-size="9.3" text-anchor="end" fill="#000">1</text>
<text x="582.55" y="215" font-family='"DejaVu Sans", "Liberation Sans", sans-serif' font-size="10.4" font-style="italic" fill="#000" stroke="#000" stroke-width="0.4">ψ</text><text x="590.15" y="217.4" font-family='"Liberation Serif", serif' font-size="7.6" fill="#333">x</text>
<g transform="translate(471.1,101.1) rotate(-90)"><text x="0" y="0" font-family='"DejaVu Sans", "Liberation Sans", sans-serif' font-size="10.4" font-style="italic" fill="#000" stroke="#000" stroke-width="0.4">ψ</text><text x="6.9" y="2.3" font-family='"Liberation Serif", serif' font-size="7.6" fill="#333">y</text></g>
<line x1="493.3" y1="191" x2="602.59" y2="2.7" stroke="#3f86c6" stroke-width="1.2" />
<line x1="682.6" y1="191" x2="573.31" y2="2.7" stroke="#e0303a" stroke-width="1.2" />
<text x="557.6" y="133.8" font-family='"Liberation Sans", sans-serif' font-size="8.45" text-anchor="start" fill="#000">Feasible domain</text>
<text transform="translate(521.2,124.5) rotate(-59.9)" font-family='"Liberation Sans", sans-serif' font-size="8.45" fill="#000">Non feasible domain</text>
<text transform="translate(619.6,58.7) rotate(59.9)" font-family='"Liberation Sans", sans-serif' font-size="8.45" fill="#000">Non feasible domain</text>
<line x1="639" y1="13.5" x2="653.5" y2="13.5" stroke="#e0303a" stroke-width="1.0" />
<line x1="639" y1="25.5" x2="653.5" y2="25.5" stroke="#3f86c6" stroke-width="1.0" />
<text x="665.5" y="16.8" font-family='"Liberation Serif", serif' font-size="10.4" font-weight="bold" font-style="italic" fill="#000">G<tspan font-size="6" dy="1.6">2</tspan></text>
<text x="665.5" y="29.0" font-family='"Liberation Serif", serif' font-size="10.4" font-weight="bold" font-style="italic" fill="#000">G<tspan font-size="6" dy="1.6">3</tspan></text>
<text x="33.5" y="241" font-family='"Liberation Serif", serif' font-size="16.6" fill="#111" textLength="161.5" lengthAdjust="spacing">(a) Angular Projection</text>
<text x="259.3" y="241" font-family='"Liberation Serif", serif' font-size="16.6" fill="#111" textLength="185.3" lengthAdjust="spacing">(b) Orthogonal Projection</text>
<text x="507.7" y="241" font-family='"Liberation Serif", serif' font-size="16.6" fill="#111" textLength="153.2" lengthAdjust="spacing">(c) Linear constraints</text>
</svg>
</body></html>
